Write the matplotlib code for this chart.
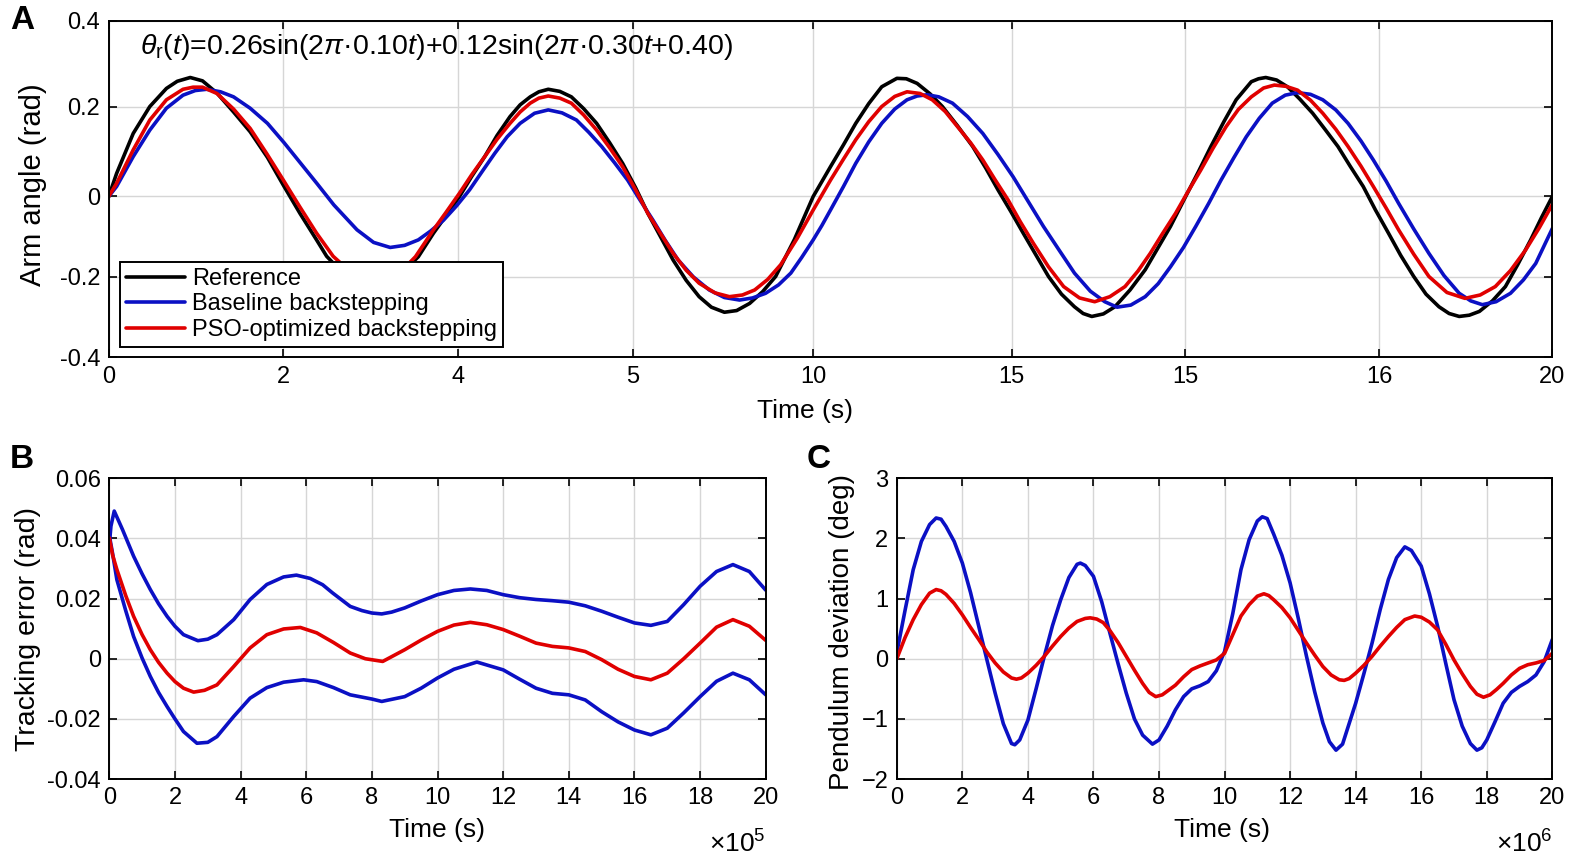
import matplotlib
matplotlib.use("Agg")
import matplotlib.pyplot as plt

plt.rcParams['font.family'] = ['Liberation Sans', 'DejaVu Sans']
plt.rcParams['mathtext.fontset'] = 'custom'
plt.rcParams['mathtext.rm'] = 'Liberation Sans'
plt.rcParams['mathtext.it'] = 'Liberation Sans:italic'
plt.rcParams['mathtext.bf'] = 'Liberation Sans:bold'

# ---------------- Panel A data ----------------
A_XTICK_POS = [0, 2.42, 4.84, 7.26, 9.76, 12.51, 14.91, 17.60, 20]
A_XTICK_LABELS = ["0", "2", "4", "5", "10", "15", "15", "16", "20"]
A_YTICK_POS = [0.4, 0.1956, -0.017, -0.2084, -0.4]
A_YTICK_LABELS = ["0.4", "0.2", "0", "-0.2", "-0.4"]

A_REF_T = [0, 0.11, 0.34, 0.57, 0.80, 0.95, 1.13, 1.30, 1.50, 1.73, 1.96, 2.2, 2.42, 2.65, 2.88,
           3.02, 3.30, 3.65, 4.00, 4.29, 4.50, 4.68, 4.86, 5.03, 5.21, 5.38, 5.56, 5.70, 5.84,
           5.96, 6.09, 6.25, 6.41, 6.58, 6.76, 6.94, 7.12, 7.30, 7.47, 7.65, 7.82, 8.00, 8.18,
           8.35, 8.53, 8.70, 8.88, 9.06, 9.24, 9.50, 9.76, 10.0, 10.18, 10.35, 10.53, 10.71,
           10.92, 11.05, 11.2, 11.38, 11.55, 11.76, 11.97, 12.15, 12.32, 12.50, 12.67, 12.85,
           13.02, 13.2, 13.38, 13.50, 13.62, 13.78, 13.94, 14.15, 14.36, 14.53, 14.71, 14.92,
           15.10, 15.27, 15.45, 15.62, 15.83, 15.93, 16.03, 16.18, 16.33, 16.50, 16.68, 16.85,
           17.03, 17.2, 17.38, 17.55, 17.73, 17.9, 18.08, 18.25, 18.43, 18.57, 18.71, 18.85,
           18.99, 19.17, 19.35, 19.52, 19.7, 19.85, 20]
A_REF_V = [-0.018, 0.037, 0.132, 0.196, 0.239, 0.256, 0.265, 0.257, 0.228, 0.183, 0.136, 0.075,
           0.009, -0.058, -0.121, -0.160, -0.210, -0.235, -0.210, -0.161, -0.105, -0.062, -0.018,
           0.030, 0.077, 0.127, 0.172, 0.200, 0.219, 0.231, 0.237, 0.232, 0.219, 0.191, 0.156,
           0.110, 0.061, 0.003, -0.058, -0.115, -0.169, -0.217, -0.256, -0.281, -0.293, -0.289,
           -0.272, -0.244, -0.208, -0.120, -0.018, 0.053, 0.105, 0.156, 0.203, 0.243, 0.263,
           0.262, 0.251, 0.226, 0.196, 0.150, 0.101, 0.050, -0.002, -0.054, -0.105, -0.158,
           -0.208, -0.250, -0.280, -0.296, -0.303, -0.297, -0.280, -0.240, -0.192, -0.142,
           -0.089, -0.018, 0.042, 0.101, 0.160, 0.212, 0.255, 0.262, 0.265, 0.259, 0.243, 0.214,
           0.180, 0.142, 0.101, 0.054, 0.006, -0.050, -0.105, -0.158, -0.208, -0.250, -0.280,
           -0.296, -0.303, -0.300, -0.291, -0.266, -0.232, -0.180, -0.121, -0.068, -0.018]

A_BASE_T = [0, 0.11, 0.34, 0.57, 0.80, 1.03, 1.20, 1.36, 1.55, 1.73, 1.96, 2.2, 2.43, 2.66, 2.89,
            3.12, 3.44, 3.67, 3.9, 4.1, 4.29, 4.46, 4.64, 4.82, 5.0, 5.18, 5.35, 5.52, 5.7, 5.9,
            6.09, 6.28, 6.48, 6.65, 6.83, 7.01, 7.19, 7.36, 7.54, 7.71, 7.89, 8.1, 8.32, 8.53,
            8.74, 8.92, 9.1, 9.28, 9.45, 9.6, 9.76, 9.88, 10.0, 10.18, 10.35, 10.53, 10.71, 10.89,
            11.06, 11.2, 11.34, 11.5, 11.69, 11.9, 12.11, 12.32, 12.53, 12.74, 12.95, 13.17,
            13.38, 13.6, 13.8, 13.97, 14.16, 14.36, 14.54, 14.71, 14.89, 15.06, 15.24, 15.41,
            15.59, 15.76, 15.94, 16.12, 16.3, 16.47, 16.65, 16.82, 17.0, 17.17, 17.35, 17.52,
            17.7, 17.87, 18.08, 18.29, 18.5, 18.71, 18.87, 19.03, 19.22, 19.42, 19.6, 19.77, 20]
A_BASE_V = [-0.018, 0.006, 0.077, 0.140, 0.192, 0.223, 0.234, 0.237, 0.231, 0.219, 0.192, 0.156,
            0.110, 0.061, 0.012, -0.038, -0.097, -0.127, -0.139, -0.134, -0.121, -0.100, -0.074,
            -0.040, -0.002, 0.043, 0.085, 0.124, 0.156, 0.180, 0.188, 0.181, 0.164, 0.135, 0.101,
            0.062, 0.021, -0.026, -0.074, -0.122, -0.169, -0.209, -0.240, -0.258, -0.264, -0.259,
            -0.248, -0.228, -0.200, -0.163, -0.121, -0.087, -0.050, 0.006, 0.061, 0.112, 0.156,
            0.190, 0.212, 0.221, 0.224, 0.219, 0.204, 0.172, 0.132, 0.082, 0.029, -0.030, -0.089,
            -0.146, -0.200, -0.243, -0.268, -0.281, -0.276, -0.256, -0.225, -0.185, -0.139,
            -0.089, -0.034, 0.021, 0.075, 0.124, 0.168, 0.204, 0.223, 0.229, 0.225, 0.212, 0.188,
            0.156, 0.114, 0.069, 0.018, -0.034, -0.095, -0.153, -0.206, -0.248, -0.266, -0.275,
            -0.268, -0.248, -0.216, -0.177, -0.094]

A_PSO_T = [0, 0.11, 0.34, 0.57, 0.80, 1.03, 1.17, 1.30, 1.50, 1.73, 1.96, 2.19, 2.42, 2.65, 2.88,
           3.11, 3.40, 3.70, 4.00, 4.25, 4.5, 4.68, 4.86, 5.03, 5.21, 5.38, 5.56, 5.70, 5.84, 5.96,
           6.09, 6.25, 6.41, 6.58, 6.76, 6.94, 7.12, 7.30, 7.47, 7.65, 7.82, 8.0, 8.18, 8.4, 8.6,
           8.78, 8.95, 9.13, 9.31, 9.54, 9.76, 10.0, 10.18, 10.35, 10.53, 10.71, 10.89, 11.06,
           11.24, 11.41, 11.59, 11.76, 11.94, 12.11, 12.28, 12.46, 12.63, 12.81, 13.02, 13.23,
           13.45, 13.66, 13.87, 14.08, 14.26, 14.43, 14.6, 14.78, 14.95, 15.13, 15.3, 15.48,
           15.65, 15.83, 16.0, 16.15, 16.31, 16.47, 16.65, 16.82, 17.0, 17.17, 17.35, 17.52,
           17.7, 17.87, 18.08, 18.29, 18.54, 18.79, 19.0, 19.21, 19.42, 19.63, 19.82, 20]
A_PSO_V = [-0.018, 0.0135, 0.093, 0.164, 0.212, 0.237, 0.242, 0.242, 0.227, 0.190, 0.144, 0.084,
           0.021, -0.043, -0.105, -0.160, -0.205, -0.225, -0.205, -0.161, -0.097, -0.054, -0.010,
           0.034, 0.077, 0.118, 0.156, 0.183, 0.204, 0.216, 0.221, 0.216, 0.204, 0.176, 0.140,
           0.098, 0.053, -0.002, -0.058, -0.107, -0.153, -0.193, -0.224, -0.247, -0.256, -0.252,
           -0.240, -0.215, -0.180, -0.117, -0.050, 0.021, 0.071, 0.117, 0.160, 0.196, 0.220,
           0.231, 0.227, 0.212, 0.184, 0.148, 0.110, 0.069, 0.022, -0.026, -0.078, -0.129,
           -0.185, -0.232, -0.259, -0.268, -0.256, -0.232, -0.195, -0.153, -0.106, -0.058,
           -0.007, 0.045, 0.097, 0.148, 0.189, 0.219, 0.240, 0.247, 0.244, 0.235, 0.211, 0.180,
           0.142, 0.101, 0.054, 0.006, -0.046, -0.097, -0.155, -0.208, -0.246, -0.260, -0.252,
           -0.232, -0.194, -0.145, -0.092, -0.037]

# ---------------- Panel B data (time in units of 1e5) ----------------
B_UP_T = [0, 0.05, 0.15, 0.4, 0.74, 1.0, 1.25, 1.5, 1.76, 2.0, 2.26, 2.7, 3.0, 3.28, 3.79, 4.29,
          4.8, 5.31, 5.7, 6.12, 6.5, 6.8, 7.34, 7.7, 8.0, 8.3, 8.6, 9.0, 9.5, 10, 10.5, 11, 11.5,
          12, 12.5, 13, 13.5, 14, 14.5, 15, 15.5, 16, 16.5, 17, 17.5, 18, 18.5, 19, 19.5, 20]
B_UP_V = [0.038, 0.0441, 0.0491, 0.0430, 0.0341, 0.0282, 0.0230, 0.0183, 0.0141, 0.0108, 0.0080,
          0.0060, 0.0065, 0.0080, 0.0130, 0.0197, 0.0247, 0.0272, 0.0278, 0.0267, 0.0246, 0.0219,
          0.0174, 0.0160, 0.0152, 0.0149, 0.0155, 0.0169, 0.0192, 0.0213, 0.0227, 0.0232, 0.0227,
          0.0213, 0.0203, 0.0197, 0.0193, 0.0188, 0.0176, 0.0158, 0.0138, 0.0119, 0.0111, 0.0124,
          0.0180, 0.0241, 0.0290, 0.0313, 0.0290, 0.0228]
B_PSO_T = [0, 0.1, 0.23, 0.5, 0.74, 1.0, 1.25, 1.5, 1.76, 2.0, 2.26, 2.57, 2.9, 3.28, 3.79, 4.29,
           4.8, 5.31, 5.82, 6.32, 6.83, 7.34, 7.8, 8.33, 9.0, 9.5, 10, 10.5, 11, 11.5, 12, 12.5,
           13, 13.5, 14, 14.5, 15, 15.5, 16, 16.5, 17, 17.5, 18, 18.5, 19, 19.5, 20]
B_PSO_V = [0.0402, 0.0345, 0.0297, 0.0210, 0.0141, 0.0080, 0.0030, -0.0012, -0.0048, -0.0076,
           -0.0098, -0.0111, -0.0105, -0.0087, -0.0026, 0.0036, 0.0080, 0.0099, 0.0104, 0.0086,
           0.0054, 0.0019, 0.0000, -0.0009, 0.0030, 0.0062, 0.0091, 0.0112, 0.0121, 0.0113,
           0.0097, 0.0075, 0.0052, 0.0041, 0.0036, 0.0024, -0.0003, -0.0035, -0.0059, -0.0070,
           -0.0048, 0.0000, 0.0052, 0.0105, 0.0130, 0.0108, 0.0061]
B_LOW_T = [0, 0.1, 0.23, 0.5, 0.74, 1.0, 1.25, 1.5, 1.76, 2.0, 2.26, 2.67, 3.0, 3.28, 3.79, 4.29,
           4.8, 5.31, 5.92, 6.32, 6.83, 7.34, 8, 8.3, 9, 9.5, 10, 10.5, 11.2, 12, 12.5, 13, 13.5,
           14, 14.5, 15, 15.5, 16, 16.5, 17, 17.5, 18, 18.5, 19, 19.5, 20]
B_LOW_V = [0.041, 0.0350, 0.0263, 0.0160, 0.0074, 0.0002, -0.0059, -0.0112, -0.0159, -0.0200,
           -0.0242, -0.0281, -0.0278, -0.0259, -0.0192, -0.0131, -0.0096, -0.0078, -0.0070,
           -0.0076, -0.0096, -0.0120, -0.0134, -0.0142, -0.0126, -0.0098, -0.0064, -0.0035,
           -0.0011, -0.0037, -0.0068, -0.0098, -0.0115, -0.0120, -0.0137, -0.0176, -0.0210,
           -0.0237, -0.0253, -0.0231, -0.0180, -0.0126, -0.0075, -0.0048, -0.0070, -0.0120]

# ---------------- Panel C data (time in units of 1e6) ----------------
C_BASE_T = [0, 0.25, 0.5, 0.75, 1.0, 1.2, 1.35, 1.5, 1.75, 2.0, 2.25, 2.5, 2.75, 3.0, 3.25, 3.5,
            3.6, 3.75, 4.0, 4.25, 4.5, 4.75, 5.0, 5.25, 5.5, 5.6, 5.75, 6.0, 6.25, 6.5, 6.75, 7.0,
            7.25, 7.5, 7.8, 8.0, 8.25, 8.5, 8.75, 9.0, 9.25, 9.5, 9.75, 10.0, 10.25, 10.5, 10.75,
            11.0, 11.15, 11.3, 11.5, 11.75, 12.0, 12.25, 12.5, 12.75, 13.0, 13.2, 13.4, 13.6,
            13.8, 14.0, 14.25, 14.5, 14.75, 15.0, 15.25, 15.5, 15.7, 16.0, 16.25, 16.5, 16.75,
            17.0, 17.25, 17.5, 17.7, 17.85, 18.0, 18.25, 18.5, 18.75, 19.0, 19.25, 19.5, 19.75, 20]
C_BASE_V = [0.10, 0.80, 1.48, 1.95, 2.23, 2.34, 2.32, 2.20, 1.95, 1.59, 1.10, 0.54, -0.02, -0.57,
            -1.08, -1.41, -1.43, -1.35, -1.02, -0.50, 0.04, 0.55, 0.98, 1.35, 1.57, 1.59, 1.55,
            1.37, 0.95, 0.43, -0.08, -0.57, -1.00, -1.27, -1.42, -1.35, -1.12, -0.85, -0.63,
            -0.50, -0.45, -0.38, -0.20, 0.12, 0.75, 1.48, 1.98, 2.29, 2.36, 2.33, 2.07, 1.72, 1.26,
            0.67, 0.04, -0.55, -1.07, -1.38, -1.52, -1.42, -1.08, -0.74, -0.25, 0.26, 0.82, 1.32,
            1.68, 1.86, 1.80, 1.54, 1.08, 0.54, -0.08, -0.68, -1.12, -1.41, -1.52, -1.48, -1.35,
            -1.05, -0.74, -0.56, -0.46, -0.38, -0.27, -0.05, 0.32]
C_PSO_T = [0, 0.25, 0.5, 0.75, 1.0, 1.2, 1.35, 1.5, 1.75, 2.0, 2.25, 2.5, 2.75, 3.0, 3.25, 3.5,
           3.65, 3.8, 4.0, 4.25, 4.5, 4.75, 5.0, 5.25, 5.5, 5.75, 5.9, 6.1, 6.3, 6.5, 6.75, 7.0,
           7.25, 7.5, 7.7, 7.9, 8.1, 8.3, 8.5, 8.75, 9.0, 9.25, 9.5, 9.75, 10.0, 10.25, 10.5,
           10.75, 11.0, 11.2, 11.35, 11.5, 11.75, 12.0, 12.25, 12.5, 12.75, 13.0, 13.25, 13.5,
           13.65, 13.8, 14.0, 14.25, 14.5, 14.75, 15.0, 15.25, 15.5, 15.8, 16.0, 16.25, 16.5,
           16.75, 17.0, 17.25, 17.5, 17.7, 17.9, 18.1, 18.3, 18.5, 18.75, 19.0, 19.25, 19.5,
           19.75, 20]
C_PSO_V = [0.0, 0.35, 0.65, 0.90, 1.09, 1.15, 1.13, 1.07, 0.92, 0.73, 0.52, 0.32, 0.11, -0.07,
           -0.22, -0.32, -0.34, -0.32, -0.24, -0.11, 0.04, 0.21, 0.37, 0.51, 0.62, 0.67, 0.68,
           0.66, 0.60, 0.47, 0.27, 0.04, -0.19, -0.41, -0.56, -0.63, -0.60, -0.52, -0.44, -0.30,
           -0.18, -0.12, -0.07, -0.02, 0.09, 0.40, 0.71, 0.90, 1.04, 1.08, 1.05, 0.98, 0.85, 0.68,
           0.47, 0.26, 0.06, -0.13, -0.27, -0.35, -0.36, -0.33, -0.24, -0.11, 0.04, 0.21, 0.37,
           0.52, 0.65, 0.71, 0.69, 0.61, 0.48, 0.24, -0.02, -0.25, -0.46, -0.59, -0.64, -0.60,
           -0.51, -0.41, -0.27, -0.16, -0.10, -0.07, -0.03, 0.09]

BLACK = '#000000'
BLUE = '#0b10c4'
RED = '#e00000'
LW = 2.6
TICK_FS = 17
XLABEL_FS = 19


def style_axes(ax):
    ax.grid(True, color='#d6d6d6', linewidth=1.0)
    ax.set_axisbelow(True)
    ax.tick_params(direction='in', top=True, right=True, length=6, width=1.2,
                   labelsize=TICK_FS, pad=6)
    for s in ax.spines.values():
        s.set_linewidth(1.4)
        s.set_color('black')


def draw(ax, t, v, color, label=None):
    ax.plot(t, v, color=color, lw=LW, solid_joinstyle='round', solid_capstyle='round',
            label=label)


fig = plt.figure(figsize=(15.75, 8.59), dpi=100)

# Panel A
axA = fig.add_axes([0.0690, 0.5841, 0.9166, 0.3918])
draw(axA, A_REF_T, A_REF_V, BLACK, 'Reference')
draw(axA, A_BASE_T, A_BASE_V, BLUE, 'Baseline backstepping')
draw(axA, A_PSO_T, A_PSO_V, RED, 'PSO-optimized backstepping')
axA.set_xlim(0, 20)
axA.set_ylim(-0.4, 0.4)
axA.set_xticks(A_XTICK_POS)
axA.set_xticklabels(A_XTICK_LABELS)
axA.set_yticks(A_YTICK_POS)
axA.set_yticklabels(A_YTICK_LABELS)
style_axes(axA)
axA.set_xlabel('Time (s)', fontsize=XLABEL_FS)
axA.xaxis.set_label_coords(0.4823, -0.125)
axA.set_ylabel('Arm angle (rad)', fontsize=21)
axA.yaxis.set_label_coords(-0.043, 0.512)
axA.text(0.0217, 0.922,
         r'$\theta_{\mathrm{r}}(t)$=0.26sin(2$\pi$·0.10$t$)+0.12sin(2$\pi$·0.30$t$+0.40)',
         transform=axA.transAxes, fontsize=20.5, va='center', ha='left')
leg = axA.legend(loc='lower left', bbox_to_anchor=(0.0078, 0.031), fontsize=17,
                 frameon=True, fancybox=False, framealpha=1, edgecolor='black',
                 handlelength=2.5, handletextpad=0.3, borderpad=0.25, labelspacing=0.15,
                 borderaxespad=0)
leg.get_frame().set_linewidth(1.4)
leg.set_zorder(10)

# Panel B
axB = fig.add_axes([0.0694, 0.0931, 0.4168, 0.3501])
draw(axB, B_UP_T, B_UP_V, BLUE)
draw(axB, B_LOW_T, B_LOW_V, BLUE)
draw(axB, B_PSO_T, B_PSO_V, RED)
axB.set_xlim(0, 20)
axB.set_ylim(-0.04, 0.06)
axB.set_xticks(range(0, 21, 2))
axB.set_yticks([-0.04, -0.02, 0, 0.02, 0.04, 0.06])
axB.set_yticklabels(['-0.04', '-0.02', '0', '0.02', '0.04', '0.06'])
style_axes(axB)
axB.set_xlabel('Time (s)', fontsize=XLABEL_FS)
axB.xaxis.set_label_coords(0.499, -0.13)
axB.set_ylabel('Tracking error (rad)', fontsize=20.5)
axB.yaxis.set_label_coords(-0.104, 0.50)
axB.text(1.0, -0.215, r'$\times10^{5}$', transform=axB.transAxes, fontsize=19,
         ha='right', va='center')

# Panel C
axC = fig.add_axes([0.5694, 0.0931, 0.4162, 0.3501])
draw(axC, C_BASE_T, C_BASE_V, BLUE)
draw(axC, C_PSO_T, C_PSO_V, RED)
axC.set_xlim(0, 20)
axC.set_ylim(-2, 3)
axC.set_xticks(range(0, 21, 2))
axC.set_yticks([-2, -1, 0, 1, 2, 3])
style_axes(axC)
axC.set_xlabel('Time (s)', fontsize=XLABEL_FS)
axC.xaxis.set_label_coords(0.496, -0.13)
axC.set_ylabel('Pendulum deviation (deg)', fontsize=20)
axC.yaxis.set_label_coords(-0.064, 0.49)
axC.text(1.0, -0.215, r'$\times10^{6}$', transform=axC.transAxes, fontsize=19,
         ha='right', va='center')

# Panel letters
fig.text(0.0063, 0.9767, 'A', fontsize=24, fontweight='bold', va='center', ha='left')
fig.text(0.0063, 0.4645, 'B', fontsize=24, fontweight='bold', va='center', ha='left')
fig.text(0.512, 0.4645, 'C', fontsize=24, fontweight='bold', va='center', ha='left')

fig.savefig('out.png', dpi=100)
